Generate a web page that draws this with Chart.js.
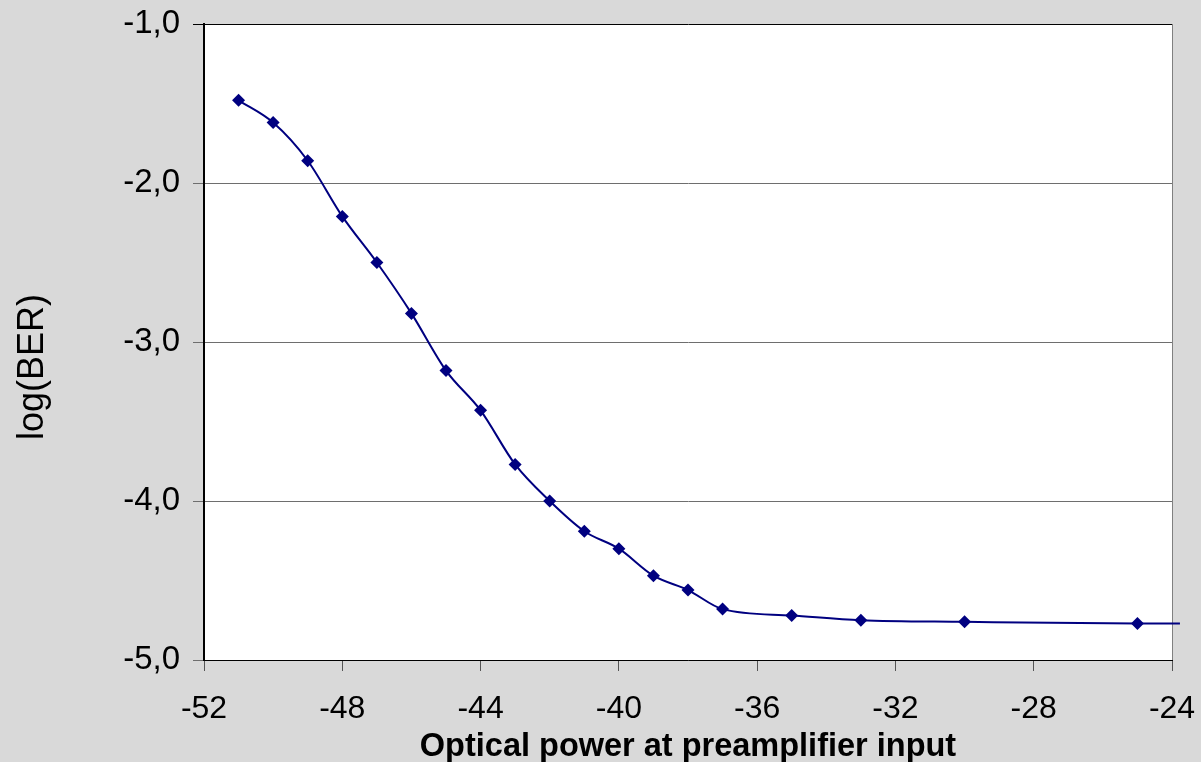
<!DOCTYPE html>
<html>
<head>
<meta charset="utf-8">
<script src="https://cdn.jsdelivr.net/npm/chart.js@4/dist/chart.umd.min.js"></script>
<style>
  html, body { margin: 0; padding: 0; background: #d9d9d9; }
  #wrap { width: 1201px; height: 762px; }
</style>
</head>
<body>
<div id="wrap"><canvas id="berChart" width="1201" height="762"></canvas></div>
<script>
/* Data */
const powerDbm = [-51, -50, -49, -48, -47, -46, -45, -44, -43, -42, -41, -40, -39, -38, -37, -35, -33, -30, -25, -23.77];
const logBer   = [-1.48, -1.62, -1.86, -2.21, -2.50, -2.82, -3.18, -3.43, -3.77, -4.00, -4.19, -4.30, -4.47, -4.56, -4.68, -4.72, -4.75, -4.76, -4.77, -4.77];
// last point is only the line running past the right edge, no marker
const markerSize = powerDbm.map((p, i) => i === powerDbm.length - 1 ? 0 : 6.5);

const xTitle = 'Optical power at preamplifier input';
// trailing no-break spaces push the rotated title a bit lower, like the original
const yTitle = 'log(BER)\u00a0\u00a0\u00a0\u00a0\u00a0';

// white plot area + thin grey right edge
const plotArea = {
  id: 'plotArea',
  beforeDraw(chart) {
    const { ctx, chartArea: a } = chart;
    ctx.save();
    ctx.fillStyle = '#ffffff';
    ctx.fillRect(a.left, a.top, a.right - a.left, a.bottom - a.top);
    ctx.strokeStyle = '#808080';
    ctx.lineWidth = 1;
    ctx.beginPath();
    ctx.moveTo(a.right + 0.5, a.top);
    ctx.lineTo(a.right + 0.5, a.bottom);
    ctx.stroke();
    ctx.restore();
  }
};

const ctx = document.getElementById('berChart').getContext('2d');

const berChart = new Chart(ctx, {
  type: 'line',
  data: {
    datasets: [{
      label: 'BER',
      data: powerDbm.map((p, i) => ({ x: p, y: logBer[i] })),
      borderColor: '#000080',
      backgroundColor: '#000080',
      borderWidth: 2,
      pointStyle: 'rectRot',
      pointRadius: markerSize,
      pointHoverRadius: markerSize,
      pointBorderWidth: 0,
      tension: 0.35,
      cubicInterpolationMode: 'monotone',
      clip: false,
      fill: false
    }]
  },
  options: {
    responsive: false,
    animation: false,
    layout: { padding: { top: 24, right: 29, left: 0, bottom: 0 } },
    plugins: {
      legend: { display: false },
      tooltip: { enabled: false }
    },
    scales: {
      x: {
        type: 'linear',
        position: 'bottom',
        min: -52,
        max: -24,
        afterFit: function (scale) {
          scale.height = 102;
          scale.paddingLeft = 0;
          scale.paddingRight = 0;
        },
        ticks: {
          stepSize: 4,
          autoSkip: false,
          maxRotation: 0,
          padding: 19,
          color: '#000',
          font: { family: 'Liberation Sans', size: 32 }
        },
        grid: {
          drawOnChartArea: false,
          drawTicks: true,
          tickLength: 11,
          tickColor: '#555555'
        },
        border: { color: '#000', width: 1 },
        title: {
          display: true,
          text: xTitle,
          color: '#000',
          font: { family: 'Liberation Sans', size: 32.5, weight: 'bold' },
          padding: { top: 0, bottom: -5 }
        }
      },
      y: {
        position: 'left',
        min: -5,
        max: -1,
        afterFit: function (scale) {
          scale.width = 204;
          scale.paddingTop = 0;
          scale.paddingBottom = 0;
        },
        ticks: {
          stepSize: 1,
          padding: 13,
          color: '#000',
          font: { family: 'Liberation Sans', size: 33 },
          callback: function (value) {
            return value.toFixed(1).replace('.', ',');
          }
        },
        grid: {
          drawTicks: true,
          tickLength: 11,
          lineWidth: 1,
          color: function (c) {
            return (c.tick && c.tick.value === -1) ? '#000' : '#6e6e6e';
          }
        },
        border: { color: '#000', width: 2 },
        title: {
          display: true,
          text: yTitle,
          color: '#000',
          font: { family: 'Liberation Sans', size: 36 },
          padding: { top: 11, bottom: 0 }
        }
      }
    }
  },
  plugins: [plotArea]
});
</script>
</body>
</html>
